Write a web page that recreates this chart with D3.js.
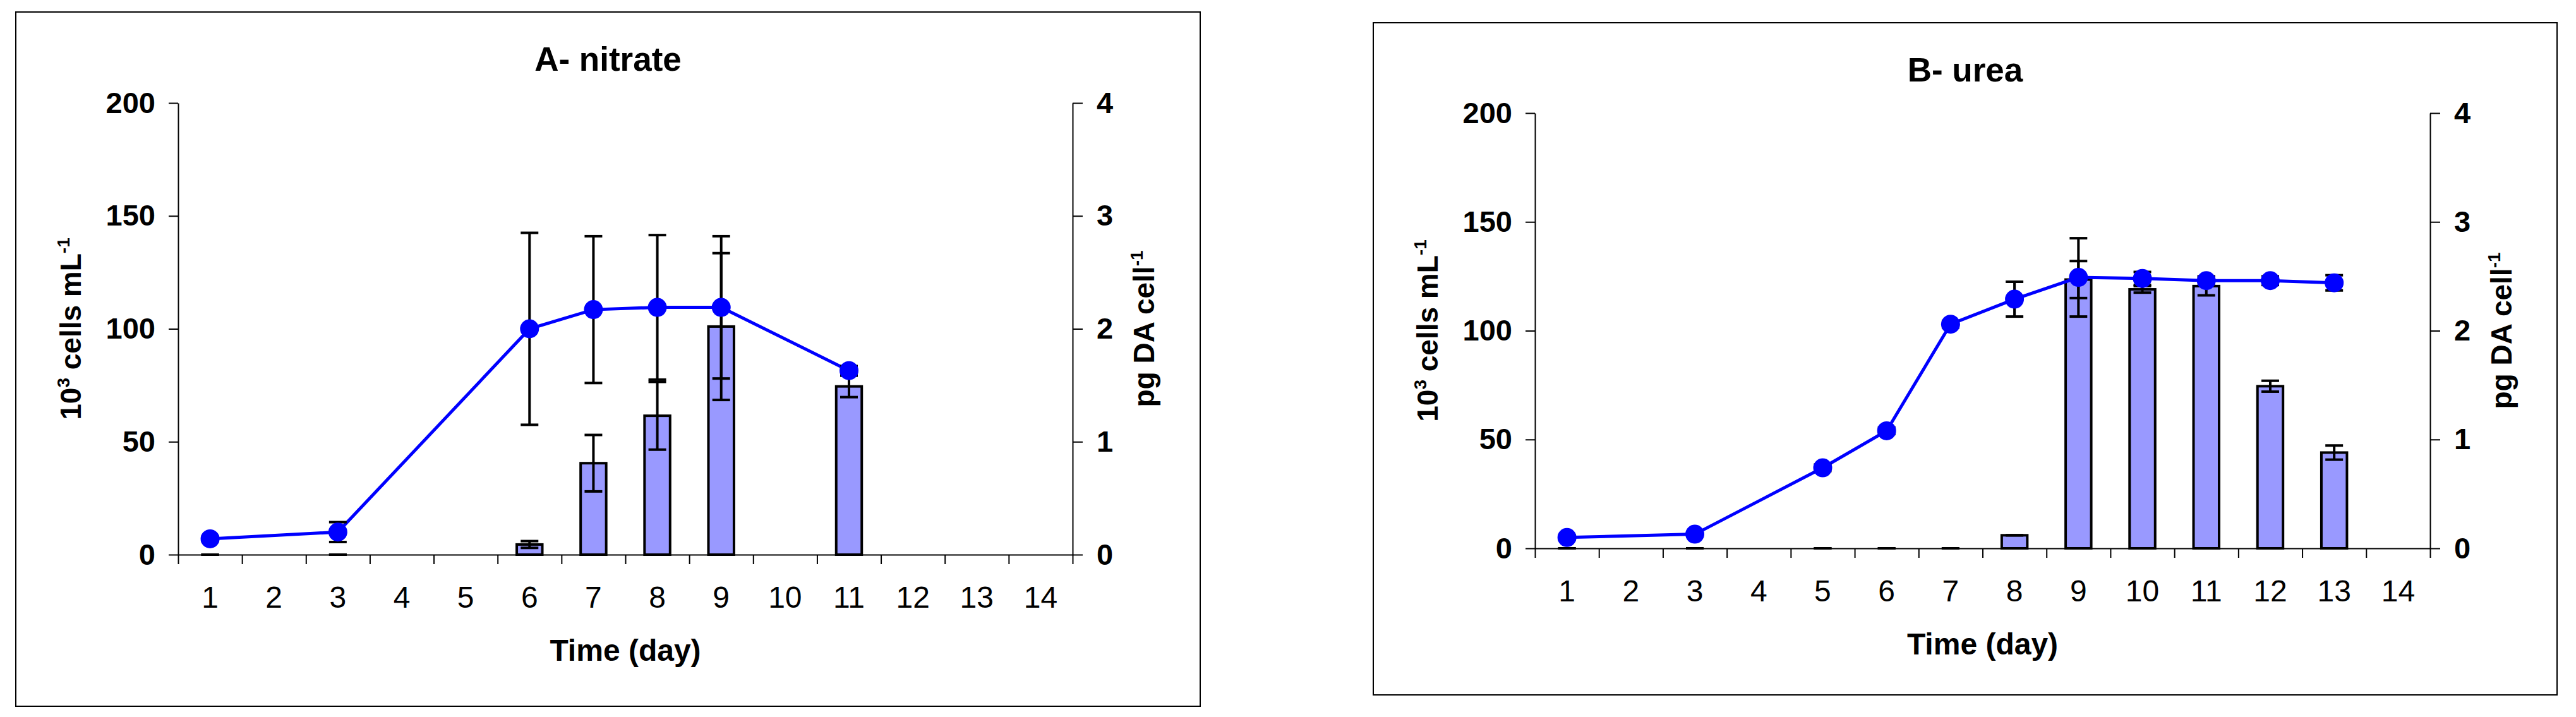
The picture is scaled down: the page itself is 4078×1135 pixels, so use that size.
<!DOCTYPE html>
<html>
<head>
<meta charset="utf-8">
<script src="https://cdn.jsdelivr.net/npm/d3@7"></script>
<style>
  html, body { margin: 0; padding: 0; background: #fff; }
  svg { display: block; }
  text { font-family: "Liberation Sans", Arial, sans-serif; fill: #000; }
</style>
</head>
<body>
<svg id="chart" width="4078" height="1135"></svg>
<script>
// ---------- data ----------
const dayCategories = ["1","2","3","4","5","6","7","8","9","10","11","12","13","14"];
const leftTicks = [0, 50, 100, 150, 200];
const rightTicks = [0, 1, 2, 3, 4];

// Panel A - nitrate
const nitrateDays = [1, 3, 6, 7, 8, 9, 11];
const nitrateCells = [7, 10, 100, 108.5, 109.5, 109.5, 81.5];
const nitrateCellsErr = [1, 4.4, 42.5, 32.5, 32, 31.5, 2];
const nitrateDA = [0, 0, 0.09, 0.81, 1.23, 2.02, 1.49];
const nitrateDAErr = [0, 0, 0.03, 0.25, 0.30, 0.65, 0.095];

// Panel B - urea
const ureaDays = [1, 3, 5, 6, 7, 8, 9, 10, 11, 12, 13];
const ureaCells = [5, 6.5, 37, 54, 103, 114.5, 124.5, 124, 123, 123, 122];
const ureaCellsErr = [1, 1, 1.5, 1.5, 1.5, 8, 18, 3, 2, 2, 3.5];
const ureaDA = [0, 0, 0, 0, 0, 0.12, 2.47, 2.38, 2.41, 1.49, 0.88];
const ureaDAErr = [0, 0, 0, 0, 0, 0, 0.17, 0.03, 0.085, 0.05, 0.065];

const titles = ["A- nitrate", "B- urea"];
const xTitle = "Time (day)";

// ---------- layout ----------
const panels = [
  { title: titles[0], frame: [25, 19, 1900, 1118], x0: 282, x1: 1698, yTop: 163, yBot: 878, titleY: 112,
    days: nitrateDays, cells: nitrateCells, cellsErr: nitrateCellsErr, da: nitrateDA, daErr: nitrateDAErr },
  { title: titles[1], frame: [2174, 36, 4048, 1100], x0: 2430, x1: 3847, yTop: 179, yBot: 868, titleY: 129,
    days: ureaDays, cells: ureaCells, cellsErr: ureaCellsErr, da: ureaDA, daErr: ureaDAErr }
];

const svg = d3.select("#chart");
svg.append("rect").attr("width", 4078).attr("height", 1135).attr("fill", "#fff");

panels.forEach(p => {
  const g = svg.append("g");
  const [fx0, fy0, fx1, fy1] = p.frame;
  g.append("rect").attr("x", fx0).attr("y", fy0).attr("width", fx1 - fx0).attr("height", fy1 - fy0)
    .attr("fill", "none").attr("stroke", "#000").attr("stroke-width", 2);

  const xBand = d3.scaleBand().domain(dayCategories).range([p.x0, p.x1]).padding(0);
  const xEdge = d3.scaleLinear().domain([0, dayCategories.length]).range([p.x0, p.x1]);
  const yL = d3.scaleLinear().domain([0, 200]).range([p.yBot, p.yTop]);
  const yR = d3.scaleLinear().domain([0, 4]).range([p.yBot, p.yTop]);
  const cx = d => xBand(String(d)) + xBand.bandwidth() / 2;
  const barW = xBand.bandwidth() * 0.4;

  // bars (pg DA cell-1, right axis)
  g.append("g").selectAll("rect").data(p.days.map((d, i) => ({ d, v: p.da[i] })).filter(o => o.v > 0))
    .join("rect")
    .attr("x", o => cx(o.d) - barW / 2)
    .attr("y", o => yR(o.v))
    .attr("width", barW)
    .attr("height", o => yR(0) - yR(o.v))
    .attr("fill", "#9999FF").attr("stroke", "#000").attr("stroke-width", 4);

  // error bars
  const errBars = (vals, errs, scale) => {
    const eg = g.append("g").attr("stroke", "#000").attr("stroke-width", 4);
    p.days.forEach((d, i) => {
      const x = cx(d), hi = scale(vals[i] + errs[i]), lo = scale(Math.max(0, vals[i] - errs[i]));
      eg.append("line").attr("x1", x).attr("x2", x).attr("y1", hi).attr("y2", lo);
      eg.append("line").attr("x1", x - 14).attr("x2", x + 14).attr("y1", hi).attr("y2", hi);
      eg.append("line").attr("x1", x - 14).attr("x2", x + 14).attr("y1", lo).attr("y2", lo);
    });
  };
  errBars(p.da, p.daErr, yR);

  // axes
  const xAxisTicks = d3.axisBottom(xEdge).tickValues(d3.range(0, dayCategories.length + 1))
    .tickFormat("").tickSize(15).tickSizeOuter(0);
  const gx = g.append("g").attr("transform", `translate(0,${p.yBot})`).call(xAxisTicks);
  gx.selectAll("path, line").attr("stroke", "#000").attr("stroke-width", 2);

  const xAxisLabels = d3.axisBottom(xBand).tickSize(0).tickPadding(50);
  const gxl = g.append("g").attr("transform", `translate(0,${p.yBot})`).call(xAxisLabels);
  gxl.select(".domain").remove();
  gxl.selectAll("text").attr("font-size", 48).attr("font-family", "Liberation Sans, Arial, sans-serif");

  const gyl = g.append("g").attr("transform", `translate(${p.x0},0)`)
    .call(d3.axisLeft(yL).tickValues(leftTicks).tickFormat(d3.format("d")).tickSize(15).tickSizeOuter(0).tickPadding(21));
  gyl.selectAll("path, line").attr("stroke", "#000").attr("stroke-width", 2);
  gyl.selectAll("text").attr("font-size", 47).attr("font-weight", "bold")
    .attr("font-family", "Liberation Sans, Arial, sans-serif");

  const gyr = g.append("g").attr("transform", `translate(${p.x1},0)`)
    .call(d3.axisRight(yR).tickValues(rightTicks).tickFormat(d3.format("d")).tickSize(16).tickSizeOuter(0).tickPadding(22));
  gyr.selectAll("path, line").attr("stroke", "#000").attr("stroke-width", 2);
  gyr.selectAll("text").attr("font-size", 47).attr("font-weight", "bold")
    .attr("font-family", "Liberation Sans, Arial, sans-serif");

  // line (cells, left axis)
  const pts = p.days.map((d, i) => [cx(d), yL(p.cells[i])]);
  g.append("path").attr("d", d3.line()(pts)).attr("fill", "none")
    .attr("stroke", "#0000FF").attr("stroke-width", 5);
  errBars(p.cells, p.cellsErr, yL);
  g.append("g").selectAll("circle").data(pts).join("circle")
    .attr("cx", d => d[0]).attr("cy", d => d[1]).attr("r", 15).attr("fill", "#0000FF");

  // titles
  const midX = (fx0 + fx1) / 2;
  g.append("text").attr("x", midX).attr("y", p.titleY).attr("text-anchor", "middle")
    .attr("font-size", 53).attr("font-weight", "bold").text(p.title);

  g.append("text").attr("x", (p.x0 + p.x1) / 2).attr("y", p.yBot + 168).attr("text-anchor", "middle")
    .attr("font-size", 48).attr("font-weight", "bold").text(xTitle);

  const midY = (p.yTop + p.yBot) / 2;
  const lt = g.append("text").attr("text-anchor", "middle").attr("font-size", 46).attr("font-weight", "bold")
    .attr("transform", `translate(${p.x0 - 170 + 16},${midY}) rotate(-90)`);
  lt.append("tspan").text("10");
  lt.append("tspan").attr("font-size", 28).attr("dy", -18).text("3");
  lt.append("tspan").attr("dy", 18).text(" cells mL");
  lt.append("tspan").attr("font-size", 28).attr("dy", -18).text("-1");

  const rt = g.append("text").attr("text-anchor", "middle").attr("font-size", 46).attr("font-weight", "bold")
    .attr("transform", `translate(${p.x1 + 113 + 16},${midY}) rotate(-90)`);
  rt.append("tspan").text("pg DA cell");
  rt.append("tspan").attr("font-size", 28).attr("dy", -18).text("-1");
});
</script>
</body>
</html>
